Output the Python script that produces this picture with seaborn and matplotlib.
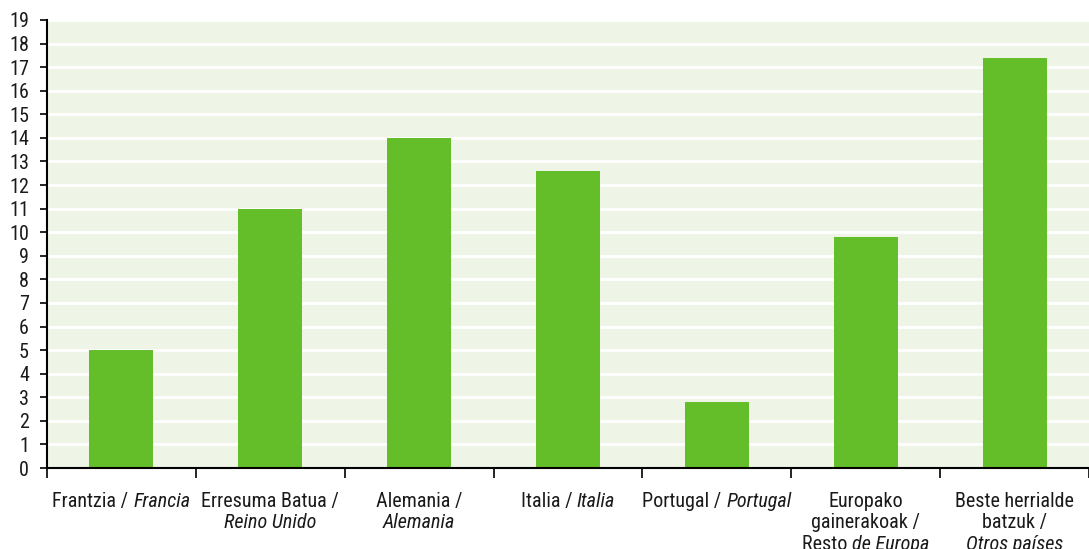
import matplotlib
matplotlib.use("Agg")
import matplotlib.pyplot as plt
import seaborn as sns
from matplotlib import font_manager
from matplotlib.offsetbox import TextArea, HPacker, VPacker, AnnotationBbox

# DATA
categories = ["Frantzia", "Erresuma Batua", "Alemania", "Italia",
              "Portugal", "Europako gainerakoak", "Beste herrialde batzuk"]
values = [5.0, 11.0, 14.0, 12.6, 2.8, 9.8, 17.4]
# tick labels: lines of (text, italic) pieces
tick_labels = [
    [[("Frantzia / ", False), ("Francia", True)]],
    [[("Erresuma Batua /", False)], [("Reino Unido", True)]],
    [[("Alemania /", False)], [("Alemania", True)]],
    [[("Italia / ", False), ("Italia", True)]],
    [[("Portugal / ", False), ("Portugal", True)]],
    [[("Europako", False)], [("gainerakoak /", False)], [("Resto ", False), ("de Europa", True)]],
    [[("Beste herrialde", False)], [("batzuk /", False)], [("Otros países", True)]],
]
y_ticks = list(range(0, 20))

# FONT - look for a narrow face, else condensed DejaVu
entries = font_manager.fontManager.ttflist
names = {f.name for f in entries}
font, stretch = "DejaVu Sans", "normal"
for cand in ["Liberation Sans Narrow", "Roboto Condensed", "Open Sans Condensed",
             "Noto Sans Condensed", "DejaVu Sans Condensed"]:
    if cand in names:
        font = cand
        break
else:
    if any(f.name == "DejaVu Sans" and "ondensed" in f.fname for f in entries):
        stretch = "condensed"

bg_color = "#eef4e6"
bar_color = "#64be2a"
text_color = "#1a1a1a"
fsize = 14.5

sns.set_theme(style="white")
plt.rcParams["font.family"] = [font, "DejaVu Sans"]
plt.rcParams["font.stretch"] = stretch

fig = plt.figure(figsize=(10.89, 5.49), dpi=100)
ax = fig.add_axes([47 / 1089, 81 / 549, 1 - 47 / 1089, 448 / 549])
ax.set_facecolor(bg_color)

sns.barplot(x=categories, y=values, color=bar_color, saturation=1, width=0.43,
            linewidth=0, ax=ax)

ax.set_ylim(0, 19)
ax.set_yticks(y_ticks)
# the chart is cut at the right edge, a bit before the last category ends
ax.set_xlim(-0.5, 6.43)
ax.yaxis.grid(True, color="white", linewidth=2)
ax.set_axisbelow(True)

for s in ["top", "right"]:
    ax.spines[s].set_visible(False)
for s in ["left", "bottom"]:
    ax.spines[s].set_color("black")
    ax.spines[s].set_linewidth(1.5)

ax.tick_params(axis="y", which="major", direction="out", length=5, width=1.2,
               color="black", pad=8, labelsize=fsize, labelcolor=text_color, left=True)
for lab in ax.get_yticklabels():
    lab.set_fontstretch(stretch)
ax.set_xticks([i - 0.5 for i in range(len(categories) + 1)])
ax.set_xticklabels([])
ax.tick_params(axis="x", direction="out", length=7, width=1.2, color="black", bottom=True)
ax.set_xlabel("")
ax.set_ylabel("")

# category labels with mixed upright / italic text
for i, lines in enumerate(tick_labels):
    rows = []
    for line in lines:
        parts = [TextArea(t, textprops=dict(fontsize=fsize, color=text_color,
                                            style="italic" if it else "normal",
                                            stretch=stretch,
                                            family=[font, "DejaVu Sans"]))
                 for t, it in line]
        rows.append(HPacker(children=parts, align="baseline", pad=0, sep=0))
    box = VPacker(children=rows, align="center", pad=0, sep=2)
    ab = AnnotationBbox(box, (i, 0), xycoords=("data", "axes fraction"),
                        xybox=(0, -17), boxcoords="offset points",
                        box_alignment=(0.5, 1), frameon=False, annotation_clip=False)
    ax.add_artist(ab)

fig.savefig("out.png", dpi=100)
